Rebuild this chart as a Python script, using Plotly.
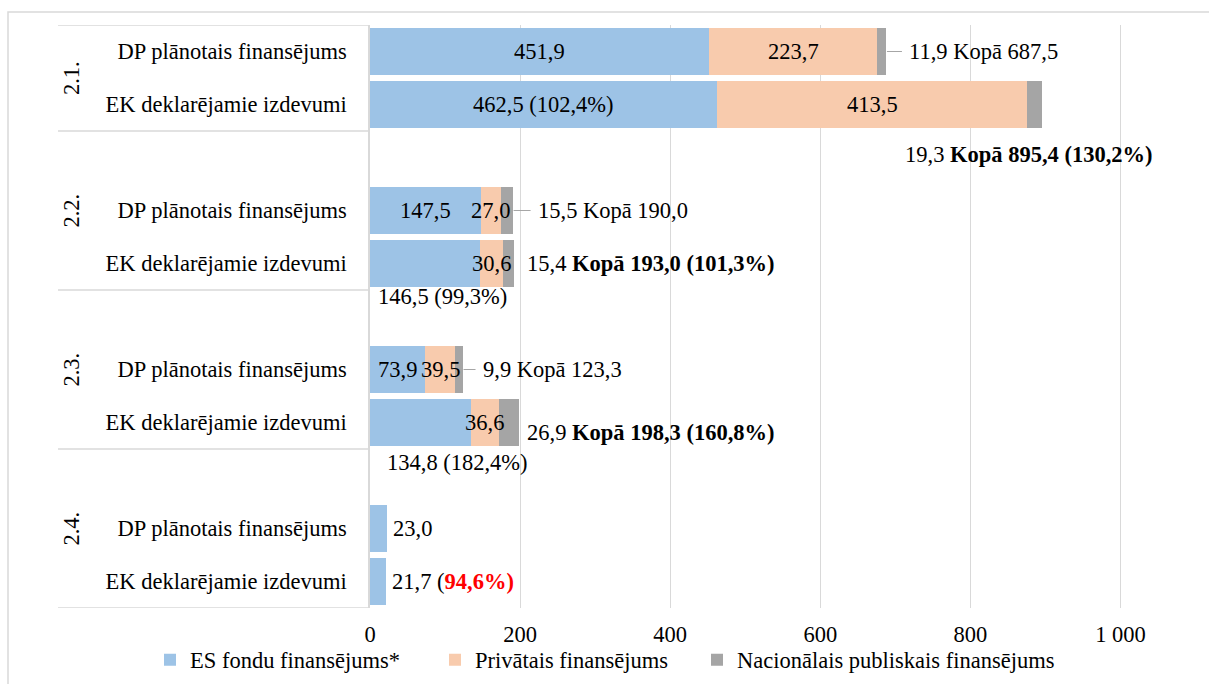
import plotly.graph_objects as go

# ---- data -------------------------------------------------------------
grupa = ["2.1.", "2.1.", "2.2.", "2.2.", "2.3.", "2.3.", "2.4.", "2.4."]
rinda = ["DP plānotais finansējums", "EK deklarējamie izdevumi"] * 4
es_fondi = [451.9, 462.5, 147.5, 146.5, 73.9, 134.8, 23.0, 21.7]
privatais = [223.7, 413.5, 27.0, 30.6, 39.5, 36.6, None, None]
nacionalais = [11.9, 19.3, 15.5, 15.4, 9.9, 26.9, None, None]
kopa = [687.5, 895.4, 190.0, 193.0, 123.3, 198.3, None, None]
es_pct = [None, 102.4, None, 99.3, None, 182.4, None, 94.6]
kopa_pct = [None, 130.2, None, 101.3, None, 160.8, None, None]
serijas = ["ES fondu finansējums*", "Privātais finansējums",
           "Nacionālais publiskais finansējums"]
krasas = ["#9DC3E6", "#F8CBAD", "#A5A5A5"]
x_ticks = [0, 200, 400, 600, 800, 1000]

# ---- layout geometry ---------------------------------------------------
W, H = 1209, 684
L, R, T, B = 370, 51, 25, 76
X_MAX = 1050
plot_w = W - L - R
plot_h = H - T - B
k = plot_w / X_MAX            # px per unit on the value axis
FONT = '"Liberation Serif", "Times New Roman", serif'
FS = 22.5
GRID = "#D9D9D9"
LEGEND_W = [240, 217, None]   # legend entry widths (px), last one natural


def px_x(px):
    return (px - L) / plot_w


def px_y(py):
    return (H - B - py) / plot_h


def fmt(v):
    return f"{v:.1f}".replace(".", ",")


# slot index: one empty slot in front of every group except the first
groups_order = list(dict.fromkeys(grupa))
pos = [i + groups_order.index(g) for i, g in enumerate(grupa)]
n_slots = pos[-1] + 1

fig = go.Figure()
for name, vals, col, lw in zip(serijas, [es_fondi, privatais, nacionalais],
                               krasas, LEGEND_W):
    fig.add_trace(go.Bar(
        y=pos, x=vals, name=name, orientation="h",
        marker=dict(color=col, line=dict(width=0)),
        width=0.89, hoverinfo="skip", legendwidth=lw,
    ))

ann = []
shapes = []


def label(x, y, text, xanchor="center", xshift=0, yshift=0):
    ann.append(dict(x=x, y=y, xref="x", yref="y", text=text, showarrow=False,
                    xanchor=xanchor, yanchor="middle", xshift=xshift,
                    yshift=yshift, font=dict(family=FONT, size=FS, color="#000")))


# EU funds labels
es_place = {
    0: ("mid", 0, 0), 1: ("mid", 0, 0), 2: ("mid", 0, 0),
    3: ("base", 6, -33), 4: ("mid", 0, 0), 5: ("base", 15, -40),
    6: ("end", 4, 0), 7: ("end", 4, 0),
}
for i, v in enumerate(es_fondi):
    txt = fmt(v)
    if es_pct[i] is not None:
        if i == 7:
            txt += (" (<b><span style='color:#FF0000'>"
                    f"{fmt(es_pct[i])}%)</span></b>")
        else:
            txt += f" ({fmt(es_pct[i])}%)"
    mode, dx, dy = es_place[i]
    if mode == "mid":
        label(v / 2, pos[i], txt)
    elif mode == "base":
        label(0, pos[i], txt, xanchor="left", xshift=dx, yshift=dy)
    else:
        label(v, pos[i], txt, xanchor="left", xshift=dx, yshift=dy)

# private funding labels
for i, v in enumerate(privatais):
    if v is None:
        continue
    label(es_fondi[i] + v / 2, pos[i], fmt(v))

# national funding + totals
tot_place = {
    0: (21, 0, True), 1: (-139, -50, False),
    2: (23, 0, True), 3: (10, 0, False),
    4: (18, 0, True), 5: (6, -10, False),
}
for i, v in enumerate(nacionalais):
    if v is None:
        continue
    dx, dy, leader = tot_place[i]
    if kopa_pct[i] is not None:
        txt = f"{fmt(v)} <b>Kopā {fmt(kopa[i])} ({fmt(kopa_pct[i])}%)</b>"
    else:
        txt = f"{fmt(v)} Kopā {fmt(kopa[i])}"
    label(kopa[i], pos[i], txt, xanchor="left", xshift=dx, yshift=dy)
    if leader:
        shapes.append(dict(type="line", xref="x", yref="y",
                           x0=kopa[i] + 1 / k, x1=kopa[i] + (dx - 5) / k,
                           y0=pos[i], y1=pos[i],
                           line=dict(color="#A6A6A6", width=1)))

# group labels and separators in the category area
bounds = [-0.5]
for g in groups_order:
    idx = [p for p, gg in zip(pos, grupa) if gg == g]
    bounds.append(max(idx) + 0.5)
for j, g in enumerate(groups_order):
    ann.append(dict(x=px_x(71), y=(bounds[j] + bounds[j + 1]) / 2,
                    xref="paper", yref="y", text=g, showarrow=False,
                    textangle=-90, xanchor="center", yanchor="middle",
                    font=dict(family=FONT, size=FS, color="#000")))
for b in bounds:
    shapes.append(dict(type="line", xref="paper", yref="y",
                       x0=px_x(58), x1=0, y0=b, y1=b,
                       line=dict(color=GRID, width=1.5)))

# outer chart frame
shapes.append(dict(type="rect", xref="paper", yref="paper",
                   x0=px_x(8), x1=px_x(W + 10), y0=px_y(12), y1=px_y(H + 10),
                   line=dict(color=GRID, width=1.5), layer="below"))

fig.update_layout(
    width=W, height=H,
    margin=dict(l=L, r=R, t=T, b=B, autoexpand=False),
    paper_bgcolor="white", plot_bgcolor="white",
    barmode="stack", bargap=0,
    separators=", ",
    font=dict(family=FONT, size=FS, color="#000"),
    annotations=ann, shapes=shapes,
    xaxis=dict(range=[0, X_MAX], tickvals=x_ticks, separatethousands=True,
               showgrid=True, gridcolor=GRID, gridwidth=1, zeroline=False,
               showline=False, ticks="", ticklabelstandoff=10,
               tickfont=dict(family=FONT, size=FS, color="#000")),
    yaxis=dict(range=[n_slots - 0.5, -0.5], tickvals=pos, ticktext=rinda,
               showgrid=False, zeroline=False, showline=True,
               linecolor=GRID, linewidth=1.5, ticks="",
               ticklabelstandoff=17,
               tickfont=dict(family=FONT, size=FS, color="#000")),
    legend=dict(orientation="h", traceorder="normal",
                xref="paper", yref="paper",
                x=px_x(150), y=px_y(660), xanchor="left", yanchor="middle",
                font=dict(family=FONT, size=FS, color="#000"),
                bgcolor="rgba(0,0,0,0)"),
    showlegend=True,
)

fig.write_html("out.html")
